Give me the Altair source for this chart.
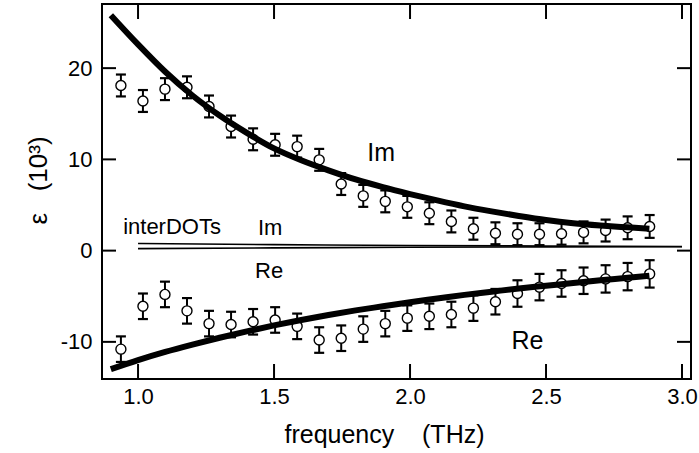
import altair as alt
import pandas as pd

# ---- data ----
freq = [0.937, 1.018, 1.099, 1.180, 1.261, 1.342, 1.423, 1.504, 1.585, 1.666,
        1.747, 1.828, 1.909, 1.990, 2.071, 2.152, 2.233, 2.314, 2.395, 2.476,
        2.557, 2.638, 2.719, 2.800, 2.881]
im_eps = [18.1, 16.4, 17.7, 17.9, 15.8, 13.6, 12.2, 11.6, 11.4, 9.95,
          7.3, 6.0, 5.4, 4.8, 4.1, 3.2, 2.4, 1.9, 1.8, 1.8,
          1.85, 2.0, 2.2, 2.5, 2.65]
im_err = [1.2, 1.2, 1.2, 1.2, 1.2, 1.2, 1.2, 1.2, 1.2, 1.2,
          1.2, 1.2, 1.2, 1.2, 1.2, 1.2, 1.2, 1.2, 1.2, 1.2,
          1.2, 1.2, 1.2, 1.25, 1.25]
re_eps = [-10.8, -6.1, -4.8, -6.6, -8.0, -8.1, -7.8, -7.6, -8.3, -9.8,
          -9.6, -8.6, -8.0, -7.4, -7.2, -7.0, -6.3, -5.6, -4.7, -4.0,
          -3.6, -3.3, -3.1, -2.85, -2.55]
re_err = [1.4, 1.4, 1.4, 1.4, 1.4, 1.4, 1.4, 1.4, 1.4, 1.4,
          1.4, 1.4, 1.4, 1.4, 1.4, 1.4, 1.4, 1.4, 1.45, 1.45,
          1.45, 1.45, 1.5, 1.5, 1.5]

fit_freq = [0.90, 1.00, 1.10, 1.20, 1.30, 1.40, 1.50, 1.60, 1.70, 1.80,
            1.90, 2.00, 2.10, 2.20, 2.30, 2.40, 2.50, 2.60, 2.70, 2.80, 2.88]
im_fit_eps = [25.8, 22.6, 19.6, 17.0, 14.8, 12.9, 11.2, 9.9, 8.8, 7.8,
              6.95, 6.2, 5.5, 4.85, 4.3, 3.8, 3.35, 3.0, 2.75, 2.55, 2.4]
re_fit_eps = [-13.0, -12.0, -11.1, -10.3, -9.55, -8.85, -8.2, -7.6, -7.05, -6.55,
              -6.1, -5.65, -5.25, -4.85, -4.5, -4.15, -3.85, -3.55, -3.25, -2.98, -2.75]

dots_freq = [1.0, 1.5, 2.0, 2.5, 3.0]
dots_im = [0.78, 0.66, 0.56, 0.5, 0.46]
dots_re = [0.22, 0.3, 0.37, 0.41, 0.43]

x_ticks = [1.0, 1.5, 2.0, 2.5, 3.0]
y_ticks = [-10, 0, 10, 20]

note_text = ["Im", "Re", "interDOTs", "Im", "Re"]
note_freq = [1.894, 2.432, 1.125, 1.486, 1.482]
note_eps = [10.66, -9.9, 2.64, 2.53, -2.2]
note_size = [25, 25, 22, 22, 22]

# ---- tables ----
pts = pd.DataFrame({
    "f": freq * 2,
    "e": im_eps + re_eps,
    "lo": [v - d for v, d in zip(im_eps, im_err)] + [v - d for v, d in zip(re_eps, re_err)],
    "hi": [v + d for v, d in zip(im_eps, im_err)] + [v + d for v, d in zip(re_eps, re_err)],
    "s": ["Im"] * len(freq) + ["Re"] * len(freq),
})
fits = pd.DataFrame({
    "f": fit_freq * 2,
    "e": im_fit_eps + re_fit_eps,
    "s": ["Im"] * len(fit_freq) + ["Re"] * len(fit_freq),
})
dots = pd.DataFrame({
    "f": dots_freq * 2,
    "e": dots_im + dots_re,
    "s": ["Im"] * len(dots_freq) + ["Re"] * len(dots_freq),
})
notes = pd.DataFrame({"f": note_freq, "e": note_eps, "t": note_text, "z": note_size})
xt = pd.DataFrame({"f": x_ticks})
yt = pd.DataFrame({"e": y_ticks})

W, H = 589, 375
FONT = "Liberation Sans"
xs = alt.Scale(domain=[0.8675, 3.033], nice=False, zero=False)
ys = alt.Scale(domain=[-14.07, 27.03], nice=False, zero=False)

x_axis = alt.Axis(values=x_ticks, format=".1f", ticks=False, tickSize=0, domain=False,
                  grid=False, labelFont=FONT, labelFontSize=22, labelColor="black",
                  labelPadding=7, title="frequency\u00a0\u00a0\u00a0\u00a0(THz)",
                  titleFont=FONT, titleFontSize=25, titleFontWeight="normal",
                  titleColor="black", titleX=282, titleY=63, titleAlign="center",
                  titleBaseline="alphabetic")
y_axis = alt.Axis(values=y_ticks, ticks=False, tickSize=0, domain=False,
                  labelExpr="'' + datum.value",
                  grid=False, labelFont=FONT, labelFontSize=22, labelColor="black",
                  labelPadding=10, title="\u03b5\u00a0\u00a0\u00a0(10\u00b3)",
                  titleFont=FONT, titleFontSize=26, titleFontWeight="normal",
                  titleColor="black", titleX=-64, titleY=176, titleAlign="center",
                  titleBaseline="middle", titleAngle=270)


def X(field="f"):
    return alt.X(field + ":Q", scale=xs, axis=x_axis)


def Y(field="e"):
    return alt.Y(field + ":Q", scale=ys, axis=y_axis)


bars = alt.Chart(pts).mark_rule(color="black", strokeWidth=2).encode(
    x=X(), y=Y("lo"), y2="hi:Q")
cap_lo = alt.Chart(pts).mark_tick(orient="horizontal", size=10, thickness=2.2,
                                  color="black", opacity=1).encode(x=X(), y=Y("lo"))
cap_hi = alt.Chart(pts).mark_tick(orient="horizontal", size=10, thickness=2.2,
                                  color="black", opacity=1).encode(x=X(), y=Y("hi"))
circles = alt.Chart(pts).mark_point(shape="circle", size=100, filled=False, fill="white",
                                    fillOpacity=1, stroke="black", strokeWidth=1.4,
                                    opacity=1).encode(x=X(), y=Y())
fit_lines = alt.Chart(fits).mark_line(color="black", strokeWidth=6, interpolate="monotone",
                                      strokeCap="butt").encode(x=X(), y=Y(), detail="s:N")
dot_lines = alt.Chart(dots).mark_line(color="black", strokeWidth=1.6,
                                      interpolate="monotone").encode(x=X(), y=Y(), detail="s:N")
texts = alt.Chart(notes).mark_text(font=FONT, color="black", align="center",
                                   baseline="middle").encode(
    x=X(), y=Y(), text="t:N", size=alt.Size("z:Q", scale=None))

tb = alt.Chart(xt).mark_rule(color="black", strokeWidth=2).encode(
    x=X(), y=alt.value(H), y2=alt.value(H - 15))
tt = alt.Chart(xt).mark_rule(color="black", strokeWidth=2).encode(
    x=X(), y=alt.value(0), y2=alt.value(15))
tl = alt.Chart(yt).mark_rule(color="black", strokeWidth=2).encode(
    y=Y(), x=alt.value(0), x2=alt.value(14))
tr = alt.Chart(yt).mark_rule(color="black", strokeWidth=2).encode(
    y=Y(), x=alt.value(W), x2=alt.value(W - 14))

chart = alt.layer(bars, cap_lo, cap_hi, circles, fit_lines, dot_lines, texts,
                  tb, tt, tl, tr).properties(
    width=W, height=H,
    autosize=alt.AutoSizeParams(type="none"),
    padding={"left": 102, "top": 4, "right": 8, "bottom": 74},
    background="white",
).configure_view(stroke="black", strokeWidth=2)

chart.save("out.html", embed_options={"renderer": "svg", "actions": False})
